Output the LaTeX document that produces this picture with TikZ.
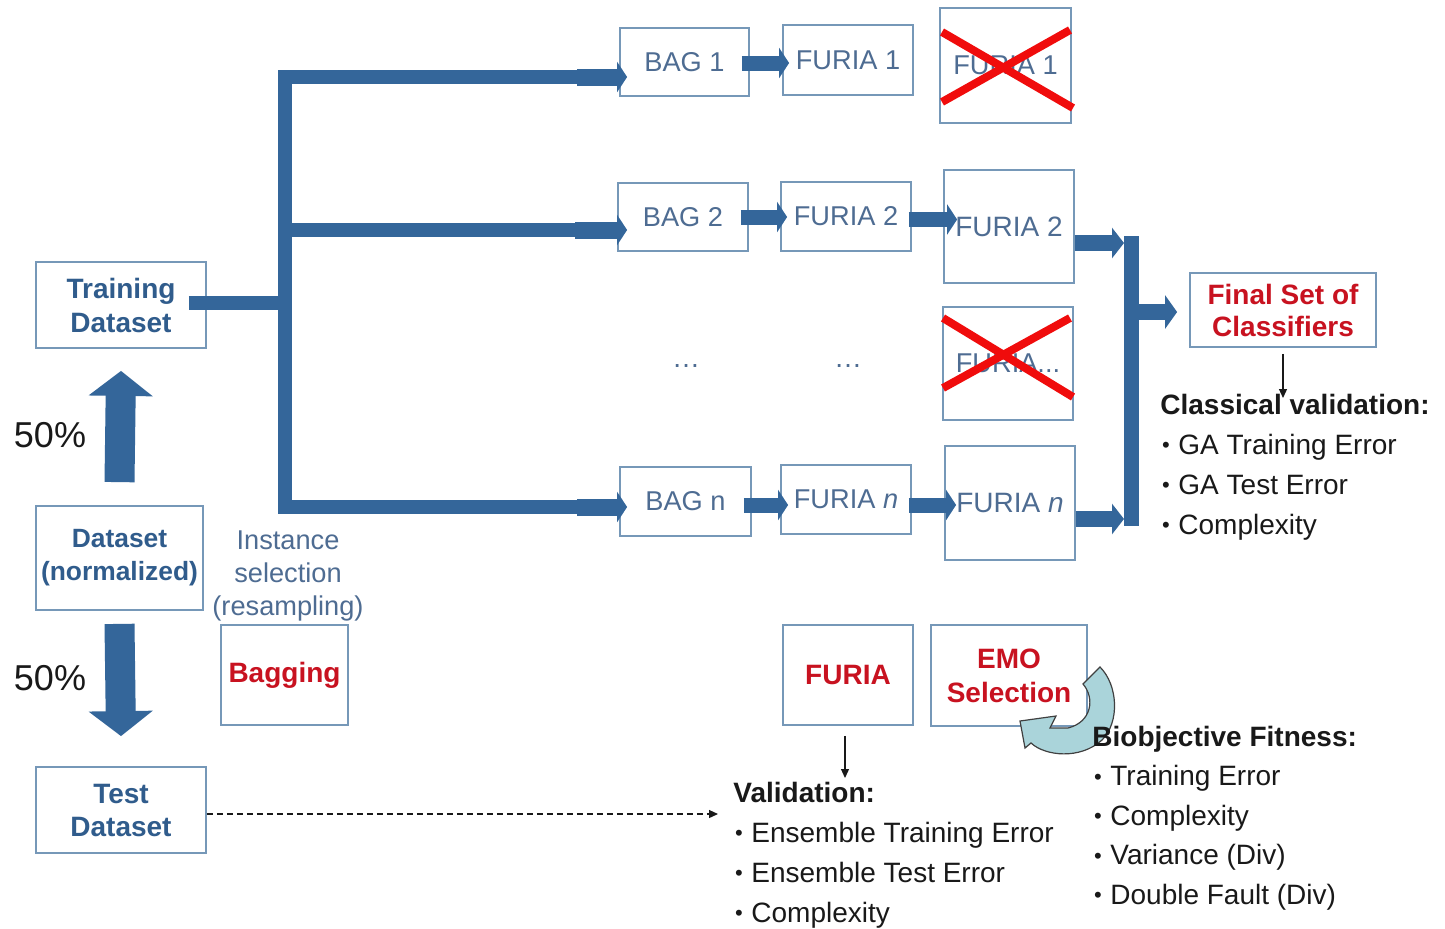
\documentclass[tikz,border=0pt]{standalone}
\usepackage{fontspec}
\setmainfont{Liberation Sans}
\usetikzlibrary{arrows.meta,calc}
\definecolor{flowblue}{RGB}{52,102,154}
\definecolor{boxedge}{RGB}{118,152,184}
\definecolor{softblue}{RGB}{78,108,146}
\definecolor{deepblue}{RGB}{48,92,140}
\definecolor{accentred}{RGB}{200,18,32}
\definecolor{crossred}{RGB}{240,12,12}
\definecolor{cyclefill}{RGB}{170,212,218}
\definecolor{ink}{RGB}{25,25,25}
\newcommand\fsz[2]{\fontsize{#1}{#2}\selectfont}
\newcommand\bul{\makebox[9pt][l]{\hspace{0.8pt}\raisebox{0.6pt}{\fsz{11}{11}•}}}

\begin{document}
\begin{tikzpicture}[x=0.5pt,y=-0.5pt,
  box/.style={draw=boxedge,line width=0.9pt,fill=white,inner sep=0pt,align=center},
  plain/.style={box,text=softblue,font=\fsz{13.6}{17}},
  strong/.style={box,text=deepblue,font=\bfseries\fsz{14}{17}},
  redbox/.style={box,text=accentred,font=\bfseries\fsz{14}{17}},
  trunk/.style={draw=flowblue,line width=6.8pt},
  feedarrow/.style={draw=flowblue,line width=8.5pt,-{Triangle[length=5pt,width=15pt]}},
  linkarrow/.style={draw=flowblue,line width=7.5pt,-{Triangle[length=5pt,width=15pt]}},
  collect/.style={draw=flowblue,line width=8pt,-{Triangle[length=6pt,width=15pt]}},
  finalarrow/.style={draw=flowblue,line width=8pt,-{Triangle[length=6pt,width=16.5pt]}},
  bigarrow/.style={draw=flowblue,line width=15pt,-{Triangle[length=12.5pt,width=31.5pt]}},
  thinarrow/.style={draw=ink,line width=0.6pt,-{Triangle[length=4.5pt,width=4pt]}},
  strike/.style={draw=crossred,line width=4pt},
  listtitle/.style={anchor=base west,inner sep=0pt,text=ink,font=\bfseries\fsz{14}{16}},
  listitem/.style={anchor=base west,inner sep=0pt,text=ink,font=\fsz{14}{16}},
]
\useasboundingbox (0,0) rectangle (1445,928);
\fill[white] (0,0) rectangle (1445,928);

% data boxes on the left
\node[strong,minimum width=85pt,minimum height=43pt] (train) at (121,305) {Training\\Dataset};
\node[strong,minimum width=83.5pt,minimum height=52pt,font=\bfseries\fsz{13.2}{16.5}] (dataset) at (119.5,558) {Dataset\\(normalized)};
\node[strong,minimum width=85pt,minimum height=43pt,font=\bfseries\fsz{14}{16.5}] (test) at (121,810) {Test\\Dataset};
\node[redbox,minimum width=63.5pt,minimum height=50pt] (bagging) at (284.5,675) {Bagging};

\node[font=\fsz{18}{20},text=ink] (pup) at (50,435) {50\%};
\node[font=\fsz{18}{20},text=ink] (pdown) at (50,678) {50\%};
\node[text=softblue,font=\fsz{13.6}{16.5},align=center] (inst) at (288,576) {Instance\\selection\\(resampling)};

% bags and base classifiers
\node[plain,minimum width=64.5pt,minimum height=34pt] (bag1) at (684.5,62) {BAG 1};
\node[plain,minimum width=65pt,minimum height=35pt] (furia1) at (848,60) {FURIA 1};
\node[plain,minimum width=65.5pt,minimum height=57.5pt] (sel1) at (1005.5,65.5) {FURIA 1};

\node[plain,minimum width=65pt,minimum height=34pt] (bag2) at (683,217) {BAG 2};
\node[plain,minimum width=65pt,minimum height=34.5pt] (furia2) at (846,216.5) {FURIA 2};
\node[plain,minimum width=65pt,minimum height=56.5pt,font=\fsz{14}{17}] (sel2) at (1009,226.5) {FURIA 2};

\node[text=softblue,font=\fsz{14}{16}] (dots1) at (686,366) {…};
\node[text=softblue,font=\fsz{14}{16}] (dots2) at (848,366) {…};
\node[plain,minimum width=65pt,minimum height=56.5pt] (selx) at (1008,363.5) {FURIA...};

\node[plain,minimum width=65.5pt,minimum height=34.5pt] (bagn) at (685.5,501.5) {BAG n};
\node[plain,minimum width=65pt,minimum height=34.5pt] (furian) at (846,499.5) {FURIA \textit{n}};
\node[plain,minimum width=65pt,minimum height=57pt,font=\fsz{14}{17}] (seln) at (1010,503) {FURIA \textit{n}};

% discarded classifiers
\draw[strike] (942,32) -- (1073,108);
\draw[strike] (942,102) -- (1070,30);
\draw[strike] (943,318) -- (1073,397);
\draw[strike] (943,388) -- (1070,318);

% final ensemble and methods
\node[redbox,minimum width=93pt,minimum height=37pt,font=\bfseries\fsz{14}{16}] (final) at (1283,310) {Final Set of\\Classifiers};
\node[redbox,minimum width=65pt,minimum height=50pt] (furiaB) at (848,675) {FURIA};
\node[redbox,minimum width=78pt,minimum height=50.5pt] (emo) at (1009,675.5) {EMO\\Selection};

% splitting of the dataset
\draw[bigarrow] ($(dataset.north)+(0,-23)$) -- ($(train.south)+(0,22)$);
\draw[bigarrow] ($(dataset.south)+(0,13)$) -- ($(test.north)+(0,-30)$);

% bagging tree
\coordinate (j) at (285,303);
\coordinate (t1) at (285,77);
\coordinate (t2) at (285,230);
\coordinate (tn) at (285,507);
\draw[trunk,line join=miter] ($(t1 -| bag1.west)+(-40,0)$) -- (t1) -- (tn) -- ($(tn -| bagn.west)+(-40,0)$);
\draw[trunk] (t2) -- ($(t2 -| bag2.west)+(-40,0)$);
\draw[trunk] ($(train.east |- j)+(-18,0)$) -- (j);
\draw[feedarrow] ($(t1 -| bag1.west)+(-42,0)$) -- ($(t1 -| bag1.west)+(8,0)$);
\draw[feedarrow] ($(t2 -| bag2.west)+(-42,0)$) -- ($(t2 -| bag2.west)+(10,0)$);
\draw[feedarrow] ($(tn -| bagn.west)+(-42,0)$) -- ($(tn -| bagn.west)+(8,0)$);

% bag -> classifier -> selected classifier
\draw[linkarrow] ($(bag1.east)+(-8,1)$) -- ($(furia1.west |- bag1.east)+(7,1)$);
\draw[linkarrow] ($(bag2.east)+(-8,0)$) -- ($(furia2.west |- bag2.east)+(7,0)$);
\draw[linkarrow] ($(furia2.east)+(-3,3)$) -- ($(sel2.west |- furia2.east)+(14,3)$);
\draw[linkarrow] ($(bagn.east)+(-8,3.5)$) -- ($(furian.west |- bagn.east)+(8,3.5)$);
\draw[linkarrow] ($(furian.east)+(-3,5.5)$) -- ($(seln.west |- furian.east)+(12,5.5)$);

% collecting the selected classifiers
\coordinate (c2) at (1124,243);
\coordinate (cn) at (1124,519);
\coordinate (bartop) at (1131.5,236);
\coordinate (barbot) at (1131.5,526);
\coordinate (fm) at (1139,312);
\draw[collect] (sel2.east |- c2) -- (c2);
\draw[collect] (seln.east |- cn) -- (cn);
\draw[draw=flowblue,line width=7.5pt] (bartop) -- (barbot);
\draw[finalarrow] (fm) -- ($(final.west |- fm)+(-12,0)$);

% validation pointers
\coordinate (cvtop) at (1283,398);
\coordinate (vtop) at (845,778);
\coordinate (tv) at (718,814);
\draw[thinarrow] ($(final.south)+(0,6)$) -- (cvtop);
\draw[thinarrow] ($(vtop |- furiaB.south)+(0,10)$) -- (vtop);
\draw[draw=ink,line width=0.6pt,dash pattern=on 3pt off 2pt,-{Triangle[length=4.5pt,width=4pt]}] (test.east |- tv) -- (tv);

% evolutionary loop
\filldraw[fill=cyclefill,draw=black!75,line width=0.6pt]
  (1100,667) -- (1083,684)
  .. controls (1095,698) and (1092,722) .. (1068,728)
  -- (1050,728) -- (1056,716) -- (1020,721) -- (1025,748) -- (1031,743)
  .. controls (1045,756) and (1080,760) .. (1102,740)
  .. controls (1120,722) and (1118,685) .. cycle;

% criteria lists
\node[listtitle] (cvt) at (1160,414) {Classical validation:};
\foreach \t [count=\i] in {GA Training Error,GA Test Error,Complexity}
  \node[listitem] (cv\i) at (1160,{414+40*\i}) {\bul\t};

\node[listtitle] (vt) at (733,802) {Validation:};
\foreach \t [count=\i] in {Ensemble Training Error,Ensemble Test Error,Complexity}
  \node[listitem] (v\i) at (733,{802+40*\i}) {\bul\t};

\node[listtitle] (bt) at (1092,746) {Biobjective Fitness:};
\foreach \t [count=\i] in {Training Error,Complexity,Variance (Div),Double Fault (Div)}
  \node[listitem] (b\i) at (1092,{746+39.5*\i}) {\bul\t};
\end{tikzpicture}
\end{document}
